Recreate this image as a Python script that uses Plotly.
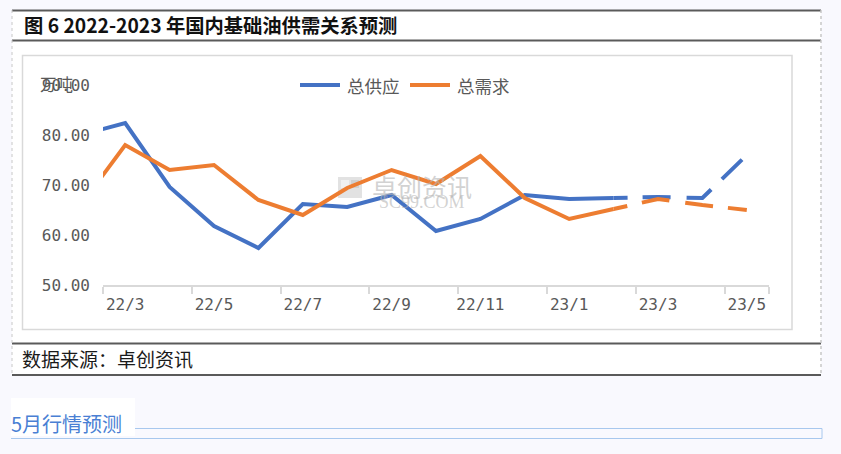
import plotly.graph_objects as go

# ---------------- data ----------------
categories = ["22/2", "22/3", "22/4", "22/5", "22/6", "22/7", "22/8", "22/9",
              "22/10", "22/11", "22/12", "23/1", "23/2", "23/3", "23/4", "23/5"]
supply = [80.0, 82.4, 69.6, 61.8, 57.4, 66.2, 65.6, 68.0,
          60.8, 63.2, 68.0, 67.2, 67.4, 67.6, 67.4, 76.0]
demand = [66.0, 78.0, 73.0, 74.0, 67.0, 64.0, 69.4, 73.0,
          70.2, 75.8, 67.4, 63.2, 65.2, 67.2, 66.0, 65.0]
forecast_start = "23/2"          # dashed from here on
tick_labels = ["22/3", "22/5", "22/7", "22/9", "22/11", "23/1", "23/3", "23/5"]
y_ticks = [50, 60, 70, 80, 90]

title_text = "图 6 2022-2023 年国内基础油供需关系预测"
source_text = "数据来源：卓创资讯"
section_text = "5月行情预测"
unit_text = "万吨"
name_supply = "总供应"
name_demand = "总需求"

BLUE = "#4472c4"
ORANGE = "#ed7d31"
GREY_TXT = "#595959"

# ---------------- geometry helpers (pixel -> paper) ----------------
W, H = 841, 454
PL, PR, PT, PB = 103, 769, 85, 285   # plot area in pixels


def px(x):
    return (x - PL) / (PR - PL)


def py(y):
    return (PB - y) / (PB - PT)


k = categories.index(forecast_start)

fig = go.Figure()
dash_pat = "14px,15px,28px,16px,28px,15px,28px,15px"
for name, vals, col in [(name_supply, supply, BLUE), (name_demand, demand, ORANGE)]:
    fig.add_trace(go.Scatter(x=categories[:k + 1], y=vals[:k + 1], mode="lines",
                             name=name, line=dict(color=col, width=4),
                             showlegend=False, hoverinfo="skip"))
    fig.add_trace(go.Scatter(x=categories[k:], y=vals[k:], mode="lines",
                             name=name + "预测", line=dict(color=col, width=4, dash=dash_pat),
                             showlegend=False, hoverinfo="skip"))

shapes = []


def rect(x0, y0, x1, y1, fill=None, line=None, lw=0, layer="below"):
    d = dict(type="rect", xref="paper", yref="paper",
             x0=px(x0), x1=px(x1), y0=py(y0), y1=py(y1), layer=layer,
             line=dict(width=lw, color=line or "rgba(0,0,0,0)"))
    if fill:
        d["fillcolor"] = fill
    shapes.append(d)


def hline(x0, x1, y, color, w, dash="solid"):
    shapes.append(dict(type="line", xref="paper", yref="paper", layer="below",
                       x0=px(x0), x1=px(x1), y0=py(y), y1=py(y),
                       line=dict(color=color, width=w, dash=dash)))


def vline(x, y0, y1, color, w, dash="solid"):
    shapes.append(dict(type="line", xref="paper", yref="paper", layer="below",
                       x0=px(x), x1=px(x), y0=py(y0), y1=py(y1),
                       line=dict(color=color, width=w, dash=dash)))


# document table
rect(12, 10, 821, 375, fill="white")
hline(12, 821, 10.5, "#5a5a5a", 2)
hline(12, 821, 40.5, "#5a5a5a", 2)
hline(12, 821, 343.5, "#5a5a5a", 2)
hline(12, 821, 375, "#5a5a5a", 2)
vline(12, 10, 375, "#c8c8c8", 1, "dot")
vline(821, 10, 375, "#c8c8c8", 1.5, "dot")
# chart box
rect(22.5, 55.5, 792, 329.5, fill="white", line="#d9d9d9", lw=1.5)
# watermark logo
rect(338, 177, 362, 198, fill="#e2e2e2")
rect(341, 180, 349, 188, fill="#f0f0f0")
rect(351, 180, 359, 188, fill="#d0d0d0")
# section header
rect(11, 398, 135, 436, fill="white")
hline(135, 822, 428.5, "#a8c8ee", 1)
hline(11, 822, 438.5, "#a8c8ee", 1)
vline(822, 428.5, 438.5, "#a8c8ee", 1)
# legend line samples
shapes.append(dict(type="line", xref="paper", yref="paper", layer="above",
                   x0=px(300), x1=px(340), y0=py(85), y1=py(85),
                   line=dict(color=BLUE, width=4)))
shapes.append(dict(type="line", xref="paper", yref="paper", layer="above",
                   x0=px(410), x1=px(450), y0=py(85), y1=py(85),
                   line=dict(color=ORANGE, width=4)))

annotations = []


def text(x, y, s, size, color, family="Noto Sans CJK SC", xanchor="left", bold=False):
    annotations.append(dict(xref="paper", yref="paper", x=px(x), y=py(y), text=("<b>%s</b>" % s) if bold else s,
                            showarrow=False, xanchor=xanchor, yanchor="middle",
                            font=dict(size=size, color=color, family=family)))


text(22, 25, title_text, 19.3, "#111111", bold=True)
text(20, 358, source_text, 19, "#1a1a1a")
text(9, 424, section_text, 20, "#4a7fd4")
text(345, 85, name_supply, 17.5, GREY_TXT)
text(455, 85, name_demand, 17.5, GREY_TXT)
text(38, 84, unit_text, 16.5, GREY_TXT)
# watermark text
text(422, 186, "卓创资讯", 25, "rgba(180,180,180,0.6)", xanchor="center")
text(422, 202, "SC99.COM", 18, "rgba(180,180,180,0.6)", family="Liberation Serif", xanchor="center")

fig.update_layout(
    width=W, height=H, autosize=False,
    margin=dict(l=PL, r=W - PR, t=PT, b=H - PB, pad=0),
    paper_bgcolor="#f9f9fe", plot_bgcolor="rgba(0,0,0,0)",
    shapes=shapes, annotations=annotations, showlegend=False,
    xaxis=dict(type="category", categoryorder="array", categoryarray=categories,
               range=[0.5, len(categories) - 0.5], tickson="boundaries",
               tickmode="array", tickvals=tick_labels, ticktext=tick_labels,
               ticks="outside", ticklen=7, tickcolor="#d9d9d9", tickwidth=1.5,
               showline=True, linecolor="#d9d9d9", linewidth=1.5, tickangle=0,
               showgrid=False, zeroline=False, ticklabelstandoff=4,
               tickfont=dict(family="DejaVu Sans Mono", size=16, color=GREY_TXT)),
    yaxis=dict(range=[50, 90], tickmode="array", tickvals=y_ticks,
               ticktext=["%.2f" % v for v in y_ticks],
               showgrid=False, zeroline=False, showline=False, ticks="",
               ticklabelstandoff=12,
               tickfont=dict(family="DejaVu Sans Mono", size=16, color=GREY_TXT)),
)

fig.write_html("out.html", config={"displayModeBar": False},
               post_script="document.body.style.margin='0';document.body.style.background='#f9f9fe';")
